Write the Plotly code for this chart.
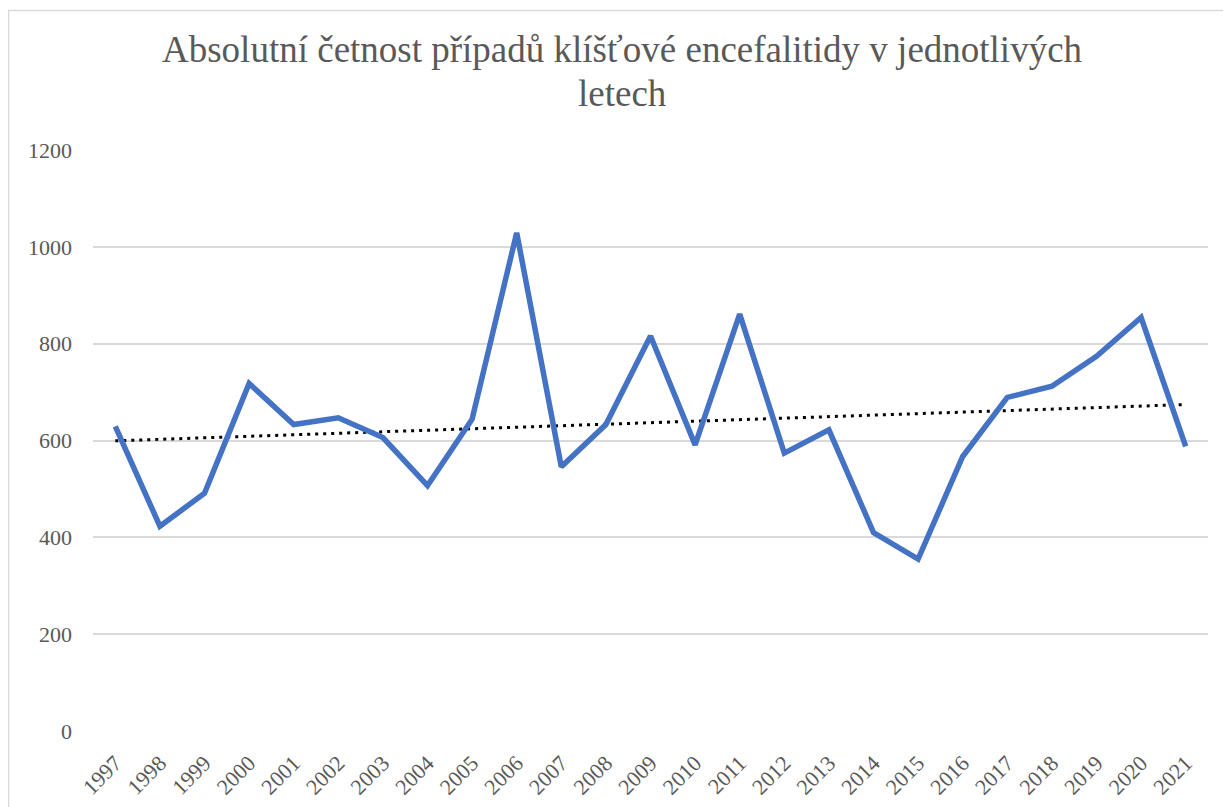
import numpy as np
import plotly.graph_objects as go

years = ["1997", "1998", "1999", "2000", "2001", "2002", "2003", "2004", "2005",
         "2006", "2007", "2008", "2009", "2010", "2011", "2012", "2013", "2014",
         "2015", "2016", "2017", "2018", "2019", "2020", "2021"]
cases = [629, 423, 491, 718, 633, 647, 606, 507, 644,
         1029, 546, 633, 816, 591, 861, 574, 622, 410,
         355, 567, 689, 712, 774, 854, 588]
y_ticks = [0, 200, 400, 600, 800, 1000, 1200]
title_line1 = "Absolutní četnost případů klíšťové encefalitidy v jednotlivých"
title_line2 = "letech"

idx = np.arange(len(cases))
slope, intercept = np.polyfit(idx, cases, 1)
trend = slope * idx + intercept

FONT = "Liberation Serif, Times New Roman, serif"
GRAY = "#595959"

# figure geometry (page body has an 8px margin)
W, H = 1223, 799
ML, MR, MT, MB = 85, 23, 142, 76
PW, PH = W - ML - MR, H - MT - MB


def py(page_y):
    """page pixel y -> paper coordinate"""
    return (H - MB - (page_y - 8)) / PH


def px(page_x):
    return ((page_x - 8) - ML) / PW


fig = go.Figure()
fig.add_trace(go.Scatter(x=years, y=trend, mode="lines",
                         line=dict(color="black", width=3, dash="3px,5px"),
                         hoverinfo="skip", showlegend=False))
fig.add_trace(go.Scatter(x=years, y=cases, mode="lines",
                         line=dict(color="#4472C4", width=5.5),
                         showlegend=False))

fig.update_layout(
    width=W, height=H,
    paper_bgcolor="white", plot_bgcolor="white",
    margin=dict(l=ML, r=MR, t=MT, b=MB, autoexpand=False),
    font=dict(family=FONT, color=GRAY),
    xaxis=dict(type="category", range=[-0.5, 24.5], tickangle=-45,
               showgrid=False, showline=False, zeroline=False, ticks="",
               ticklabelstandoff=14,
               tickfont=dict(family=FONT, size=22, color=GRAY)),
    yaxis=dict(range=[0, 1200], tickvals=y_ticks, showgrid=True,
               gridcolor="#D9D9D9", gridwidth=1.5, zeroline=False,
               showline=False, ticks="", ticklabelstandoff=20,
               tickfont=dict(family=FONT, size=22, color=GRAY)),
    annotations=[
        dict(text=title_line1, xref="paper", yref="paper", x=px(622.5), y=py(50),
             xanchor="center", yanchor="middle", showarrow=False,
             font=dict(family=FONT, size=37, color=GRAY)),
        dict(text=title_line2, xref="paper", yref="paper", x=px(622.5), y=py(94),
             xanchor="center", yanchor="middle", showarrow=False,
             font=dict(family=FONT, size=37, color=GRAY)),
    ],
    shapes=[dict(type="rect", xref="paper", yref="paper",
                 x0=px(8.5), x1=1.05, y0=-0.2, y1=py(10.5),
                 line=dict(color="#D9D9D9", width=1.5), layer="below")],
)

fig.write_html("out.html")
